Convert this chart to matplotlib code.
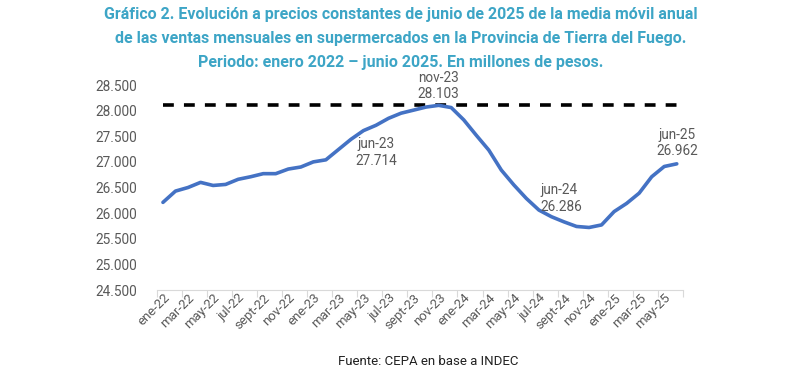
import matplotlib
matplotlib.use("Agg")
import matplotlib.pyplot as plt
from matplotlib.ticker import FuncFormatter, FixedLocator

# ---- data (millones de pesos) ----
meses = ["ene", "feb", "mar", "abr", "may", "jun", "jul", "ago", "sept", "oct", "nov", "dic"]
categorias = [f"{m}-{y}" for y in ("22", "23", "24", "25") for m in meses][:42]
ventas = [26210, 26430, 26500, 26600, 26540, 26560, 26660, 26710, 26770, 26770,
          26860, 26900, 27000, 27040, 27240, 27440, 27610, 27714, 27850, 27950,
          28010, 28070, 28103, 28060, 27820, 27520, 27230, 26840, 26550, 26286,
          26060, 25930, 25830, 25740, 25720, 25770, 26030, 26190, 26390, 26710,
          26910, 26962]
maximo = [28103] * len(ventas)
anotaciones = ["jun-23", "nov-23", "jun-24", "jun-25"]

title = ("Gráfico 2. Evolución a precios constantes de junio de 2025 de la media móvil anual\n"
         "de las ventas mensuales en supermercados en la Provincia de Tierra del Fuego.\n"
         "Periodo: enero 2022 – junio 2025. En millones de pesos.")

fig = plt.figure(figsize=(7.97, 3.72), dpi=100)
ax = fig.add_axes([0.1966, 0.2204, 0.857 - 0.1966, 0.7715 - 0.2204])

x = list(range(len(ventas)))
ax.plot(x, maximo, color="black", lw=2.6, ls=(0, (3.0, 2.8)), zorder=2)
ax.plot(x, ventas, color="#4472C4", lw=2.6, solid_capstyle="round", zorder=3)

ax.set_xlim(-0.5, len(ventas) - 0.5)
ax.set_ylim(24500, 28500)
ax.set_yticks(range(24500, 28501, 500))
ax.yaxis.set_major_formatter(FuncFormatter(lambda v, p: f"{int(v):,}".replace(",", ".")))

ax.xaxis.set_major_locator(FixedLocator([i - 0.5 for i in range(0, len(ventas) + 1, 2)]))
ax.set_xticklabels([])
for i in range(0, len(ventas), 2):
    ax.annotate(categorias[i], (i, 24500), xytext=(0, -1), textcoords="offset points",
                rotation=45, rotation_mode="anchor", ha="right", va="top",
                fontsize=9.5, color="#595959", fontfamily="Roboto")

for s in ("top", "right", "left"):
    ax.spines[s].set_visible(False)
ax.spines["bottom"].set_color("#d9d9d9")
ax.tick_params(axis="x", length=5, color="#d9d9d9", pad=0)
ax.tick_params(axis="y", length=0, labelsize=9.8, labelcolor="#595959", pad=14)
for lab in ax.get_yticklabels():
    lab.set_fontfamily("Roboto")

def fmt(v):
    return f"{v:,}".replace(",", ".")

style = dict(fontsize=9.8, color="#595959", fontfamily="Roboto", linespacing=1.22)
for cat in anotaciones:
    i = categorias.index(cat)
    v = ventas[i]
    txt = f"{cat}\n{fmt(v)}"
    if cat == "nov-23":
        ax.annotate(txt, (i, v), xytext=(0, 3), textcoords="offset points",
                    ha="center", va="bottom", **style)
    elif cat == "jun-23":
        ax.annotate(txt, (i, v), xytext=(0, -8.5), textcoords="offset points",
                    ha="center", va="top", **style)
    elif cat == "jun-24":
        ax.annotate(txt, (i, v), xytext=(10, 0), textcoords="offset points",
                    ha="left", va="center", **style)
    else:
        ax.annotate(txt, (i, v), xytext=(0, 4), textcoords="offset points",
                    ha="center", va="bottom", **style)

fig.text(0.503, 0.982, title, ha="center", va="top", fontsize=11.5, fontweight="bold",
         color="#3DA5C6", linespacing=1.75,
         fontfamily=["Liberation Sans Narrow", "Roboto"])
fig.text(0.537, 0.027, "Fuente: CEPA en base a INDEC", ha="center", va="center",
         fontsize=9.5, color="#222222", fontfamily="Roboto")

fig.savefig("out.png", dpi=100)
